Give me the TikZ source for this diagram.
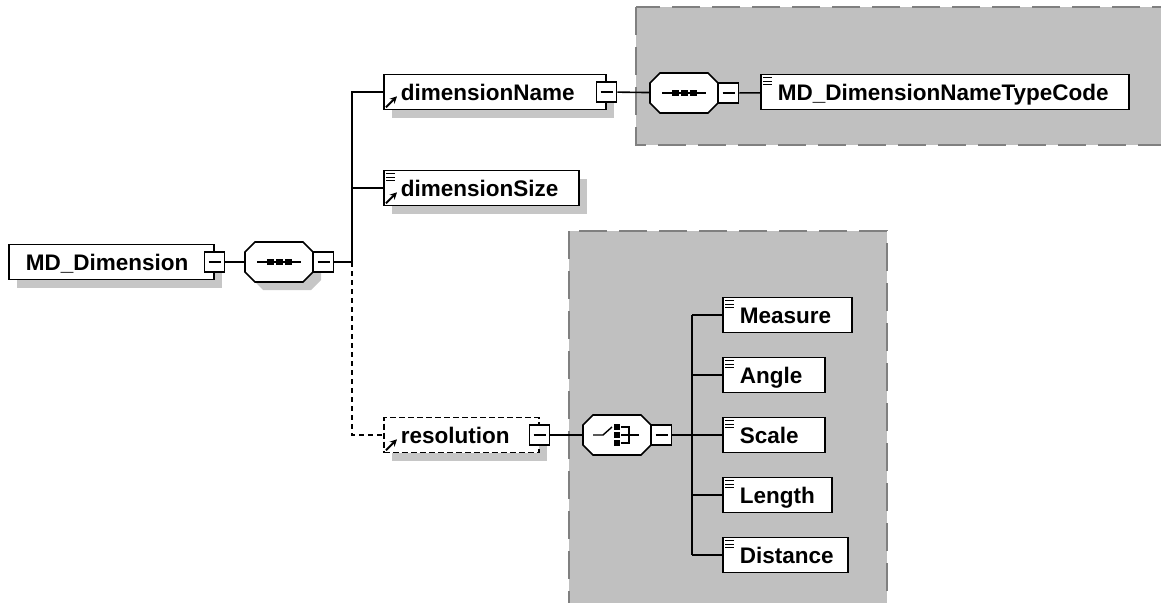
\documentclass[tikz,border=0pt]{standalone}
\usepackage{fontspec}
\setmainfont{Liberation Sans}
\usepackage{tikz}
\usetikzlibrary{arrows.meta, calc, shadows}
\definecolor{areagray}{RGB}{192,192,192}
\definecolor{edgegray}{RGB}{128,128,128}
\definecolor{shadowgray}{RGB}{198,198,198}
\hfuzz=10pt
\tikzset{
  elem/.style={rectangle, draw=black, fill=white, line width=1.6pt, anchor=west,
    minimum height=35pt, inner xsep=17pt, inner ysep=0pt, align=left,
    text height=18pt, text depth=2pt, font=\bfseries\fontsize{22.5}{24}\selectfont},
  optelem/.style={elem, dash pattern=on 6pt off 3pt},
  shadowed/.style={drop shadow={shadow xshift=8pt, shadow yshift=-8pt, fill=shadowgray, opacity=1}},
  minus/.style={rectangle, draw=black, fill=white, line width=1.4pt, minimum size=20pt, inner sep=0pt,
    path picture={\draw[line width=1.2pt] ([xshift=4pt]path picture bounding box.west) -- ([xshift=-4pt]path picture bounding box.east);}},
  octo/.style={rectangle, minimum width=68pt, minimum height=40pt, inner sep=0pt, outer sep=0pt},
  area/.style={fill=areagray, draw=edgegray, line width=1.6pt, dash pattern=on 28pt off 12pt},
  wire/.style={line width=1.6pt, draw=black},
  optwire/.style={wire, dash pattern=on 5pt off 4pt}
}
% octagon outline round an octo node, shifted by #2
\newcommand{\octpath}[2]{($(#1.north west)+(10+#2,#2)$) -- ($(#1.north east)+(-10+#2,#2)$)
  -- ($(#1.north east)+(#2,10+#2)$) -- ($(#1.south east)+(#2,-10+#2)$)
  -- ($(#1.south east)+(-10+#2,#2)$) -- ($(#1.south west)+(10+#2,#2)$)
  -- ($(#1.south west)+(#2,-10+#2)$) -- ($(#1.north west)+(#2,10+#2)$) -- cycle}
\newcommand{\drawoct}[1]{\draw[wire, fill=white] \octpath{#1}{0};}
% sequence and choice symbols
\newcommand{\seqsym}[1]{\draw[line width=1.4pt] ($(#1.center)+(-22,0)$) -- ($(#1.center)+(22,0)$);
  \foreach \dx in {-9,0,9} \fill ($(#1.center)+(\dx-3.5,-3)$) rectangle ($(#1.center)+(\dx+3.5,3)$);}
\newcommand{\chosym}[1]{\draw[line width=1.4pt] ($(#1.center)+(-24,0)$) -- ($(#1.center)+(-14,0)$) -- ($(#1.center)+(-5,-8)$);
  \foreach \dy in {-8,0,8} \fill ($(#1.center)+(-3,\dy-3)$) rectangle ($(#1.center)+(3,\dy+3)$);
  \draw[line width=1.4pt] ($(#1.center)+(4,-8)$) -- ($(#1.center)+(12,-8)$) -- ($(#1.center)+(12,8)$) -- ($(#1.center)+(4,8)$);
  \draw[line width=1.4pt] ($(#1.center)+(4,0)$) -- ($(#1.center)+(22,0)$);}
% small icons in the boxes
\newcommand{\refarrow}[1]{\draw[-{Stealth[length=7pt,width=7pt]}, line width=2pt] ([xshift=3pt,yshift=3pt]#1.south west) -- ++(11,-11);}
\newcommand{\typelines}[1]{\foreach \ly in {-4,-7.5,-11} \draw[line width=1.3pt] ([xshift=3pt,yshift=\ly pt]#1.north west) -- ++(9,0);}

\begin{document}
\begin{tikzpicture}[x=1pt, y=-1pt]
  \useasboundingbox (0,0) rectangle (1161,602);

  % gray areas
  \path[area] (636,7) rectangle (1170,145);
  \path[area] (569,231) rectangle (887,612);

  % root
  \node[elem, shadowed, text width=171pt] (mddim) at (8,262) {MD\_Dimension};
  \node[minus] (mddimm) at (mddim.east) {};
  \node[octo, anchor=west] (seqa) at (245,262) {};
  \fill[shadowgray] \octpath{seqa}{8};
  \drawoct{seqa}
  \seqsym{seqa}
  \node[minus, anchor=west] (seqam) at (seqa.east) {};
  \coordinate (trunk) at (352,262);

  % children of the sequence
  \node[elem, shadowed, text width=188pt] (dimname) at (383,92) {dimensionName};
  \node[minus] (dimnamem) at (dimname.east) {};
  \node[elem, shadowed, text width=161pt] (dimsize) at (383,188) {dimensionSize};
  \node[optelem, shadowed, text width=121pt] (resol) at (383,435) {resolution};
  \node[minus] (resolm) at (resol.east) {};
  \refarrow{dimname}
  \refarrow{dimsize}
  \typelines{dimsize}
  \refarrow{resol}

  \draw[wire] (mddimm) -- (seqa);
  \draw[wire] (seqam) -- (trunk) -- (trunk |- dimname) -- (dimname);
  \draw[wire] (trunk |- dimsize) -- (dimsize);
  \draw[optwire] (trunk) |- (resol);

  % dimensionName type
  \node[octo, anchor=west] (seqb) at (650,93) {};
  \drawoct{seqb}
  \seqsym{seqb}
  \node[minus, anchor=west] (seqbm) at (seqb.east) {};
  \node[elem, text width=334pt] (typecode) at (760,92) {MD\_DimensionNameTypeCode};
  \typelines{typecode}
  \draw[wire] (dimnamem) -- (seqb);
  \draw[wire] (seqbm) -- (typecode);

  % resolution choice
  \node[octo, anchor=west] (cho) at (583,435) {};
  \drawoct{cho}
  \chosym{cho}
  \node[minus, anchor=west] (chom) at (cho.east) {};
  \coordinate (branch) at (692,435);
  \draw[wire] (resolm) -- (cho);
  \draw[wire] (chom) -- (branch);

  \foreach \nm/\txt/\tw/\yy in {meas/Measure/95/315, ang/Angle/68/375, scl/Scale/68/435, len/Length/75/495, dist/Distance/91/555} {
    \node[elem, text width=\tw pt] (\nm) at (722,\yy) {\txt};
    \typelines{\nm}
    \draw[wire] (branch |- \nm) -- (\nm);
  }
  \draw[wire] (branch |- meas) -- (branch |- dist);
\end{tikzpicture}
\end{document}
